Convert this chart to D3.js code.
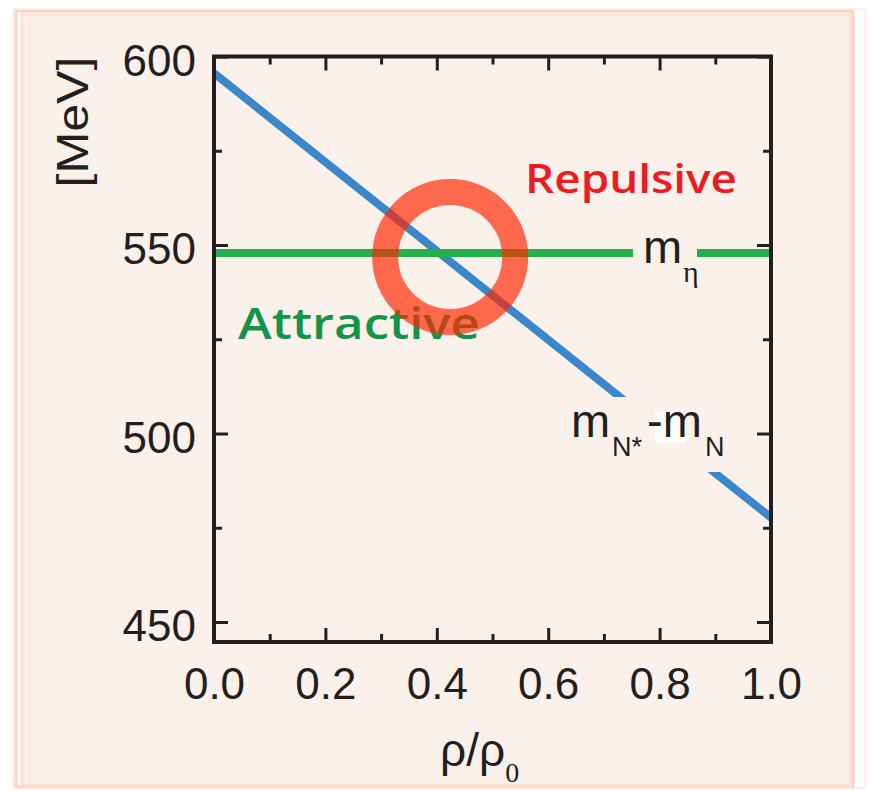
<!DOCTYPE html>
<html>
<head>
<meta charset="utf-8">
<script src="https://cdn.jsdelivr.net/npm/d3@7"></script>
<style>
  html, body { margin: 0; padding: 0; background: #ffffff; }
  svg { display: block; }
</style>
</head>
<body>
<svg id="chart" width="875" height="790"></svg>
<script>
// ---- data ----
const rho = [0.0, 1.0];                       // rho / rho0
const massDiff = [595.6, 477.7];              // m_N* - m_N  [MeV]
const etaMass = [547.9, 547.9];               // m_eta [MeV]
const xTicks = [0.0, 0.2, 0.4, 0.6, 0.8, 1.0];
const xMinor = [0.1, 0.3, 0.5, 0.7, 0.9];
const yTicks = [450, 500, 550, 600];
const yMinor = [475, 525, 575];
const crossing = [0.424, 546.8];              // highlighted crossing region (rho, MeV)

// ---- layout ----
const svg = d3.select("#chart");
const L = 214, R = 771, T = 56.5, B = 642;
const x = d3.scaleLinear().domain([0, 1]).range([L, R]);
const y = d3.scaleLinear().domain([444.7, 600]).range([B, T]);
const ink = "#231f20";
const bg = "#fbf1eb";

// background card with hand-drawn border
svg.append("rect").attr("x", 20).attr("y", 13).attr("width", 832).attr("height", 773).attr("fill", bg);
svg.append("rect").attr("x", 16).attr("y", 11).attr("width", 837).attr("height", 776)
  .attr("fill", "none").attr("stroke", "#fcd2c1").attr("stroke-width", 3);
svg.append("rect").attr("x", 22).attr("y", 15).attr("width", 828).attr("height", 770)
  .attr("fill", "none").attr("stroke", "#fde2d6").attr("stroke-width", 2);
svg.append("rect").attr("x", 13).attr("y", 9).attr("width", 852).attr("height", 779)
  .attr("fill", "none").attr("stroke", "#fdeae2").attr("stroke-width", 1.5);
svg.append("line").attr("x1", 30).attr("x2", 30).attr("y1", 20).attr("y2", 784)
  .attr("stroke", "#fde0d3").attr("stroke-width", 1.5);

// ---- lines ----
const line = d3.line().x(d => x(d[0])).y(d => y(d[1]));
svg.append("path").datum(rho.map((r, i) => [r, massDiff[i]]))
  .attr("d", line).attr("fill", "none").attr("stroke", "#3b87c9").attr("stroke-width", 8);
svg.append("path").datum(rho.map((r, i) => [r, etaMass[i]]))
  .attr("d", line).attr("fill", "none").attr("stroke", "#25b04b").attr("stroke-width", 8);

// label backgrounds that break the lines
svg.append("rect").attr("x", 633).attr("y", 240).attr("width", 64).attr("height", 30).attr("fill", bg);
svg.append("rect").attr("x", 565).attr("y", 397).attr("width", 175).attr("height", 75).attr("fill", bg);

// text labels
const sans = "'Liberation Sans', Arial, Helvetica, sans-serif";
const serif = "'Liberation Serif', 'Times New Roman', serif";
const comic = "'Comic Sans MS', 'Open Sans', sans-serif";

svg.append("text").attr("x", 525).attr("y", 193).attr("fill", "#ed1c24")
  .attr("font-family", comic).attr("font-size", 40).attr("font-weight", 600)
  .attr("textLength", 212).attr("lengthAdjust", "spacingAndGlyphs").text("Repulsive");
svg.append("text").attr("x", 238).attr("y", 339).attr("fill", "#16934a")
  .attr("font-family", comic).attr("font-size", 44).attr("font-weight", 600)
  .attr("textLength", 242).attr("lengthAdjust", "spacingAndGlyphs").text("Attractive");

// m_eta label
svg.append("text").attr("x", 643).attr("y", 263).attr("fill", ink)
  .attr("font-family", sans).attr("font-size", 47).text("m");
svg.append("text").attr("x", 683).attr("y", 282).attr("fill", ink)
  .attr("font-family", serif).attr("font-size", 30).text("η");

// m_N* - m_N label
svg.append("rect").attr("x", 655).attr("y", 412).attr("width", 31).attr("height", 31).attr("fill", "#ffffff");
const lab = svg.append("text").attr("y", 437).attr("fill", ink).attr("font-family", sans);
lab.append("tspan").attr("x", 571).attr("font-size", 47).text("m");
lab.append("tspan").attr("x", 612).attr("y", 456).attr("font-size", 27).text("N*");
lab.append("tspan").attr("x", 647).attr("y", 437).attr("font-size", 47).text("-m");
lab.append("tspan").attr("x", 705).attr("y", 456).attr("font-size", 27).text("N");

// highlight ring
svg.append("circle").attr("cx", x(crossing[0])).attr("cy", y(crossing[1])).attr("r", 65)
  .attr("fill", "none").attr("stroke", "rgb(255,38,0)").attr("stroke-opacity", 0.68).attr("stroke-width", 26);

// ---- axes ----
function styleAxis(g) {
  g.select(".domain").remove();
  g.selectAll(".tick line").attr("stroke", ink).attr("stroke-width", 3);
}
svg.append("g").attr("transform", `translate(0,${B})`)
  .call(d3.axisBottom(x).tickValues(xTicks).tickSize(-14).tickFormat(d3.format(".1f")))
  .call(styleAxis)
  .call(g => g.selectAll("text").attr("y", 57).attr("dy", 0).attr("fill", ink)
    .attr("font-family", sans).attr("font-size", 44));
svg.append("g").attr("transform", `translate(0,${B})`)
  .call(d3.axisBottom(x).tickValues(xMinor).tickSize(-8).tickFormat("")).call(styleAxis);
svg.append("g").attr("transform", `translate(0,${T})`)
  .call(d3.axisTop(x).tickValues(xTicks).tickSize(-14).tickFormat("")).call(styleAxis);
svg.append("g").attr("transform", `translate(0,${T})`)
  .call(d3.axisTop(x).tickValues(xMinor).tickSize(-8).tickFormat("")).call(styleAxis);

svg.append("g").attr("transform", `translate(${L},0)`)
  .call(d3.axisLeft(y).tickValues(yTicks).tickSize(-14).tickPadding(18))
  .call(styleAxis)
  .call(g => g.selectAll("text").attr("dy", "0.43em").attr("fill", ink)
    .attr("font-family", sans).attr("font-size", 44));
svg.append("g").attr("transform", `translate(${L},0)`)
  .call(d3.axisLeft(y).tickValues(yMinor).tickSize(-8).tickFormat("")).call(styleAxis);
svg.append("g").attr("transform", `translate(${R},0)`)
  .call(d3.axisRight(y).tickValues(yTicks).tickSize(-14).tickFormat("")).call(styleAxis);
svg.append("g").attr("transform", `translate(${R},0)`)
  .call(d3.axisRight(y).tickValues(yMinor).tickSize(-8).tickFormat("")).call(styleAxis);

// frame
svg.append("rect").attr("x", L).attr("y", T).attr("width", R - L).attr("height", B - T)
  .attr("fill", "none").attr("stroke", ink).attr("stroke-width", 4);

// axis titles
const xt = svg.append("text").attr("x", 440).attr("y", 766).attr("fill", ink).attr("font-family", sans);
xt.append("tspan").attr("font-size", 46).text("ρ/ρ");
xt.append("tspan").attr("font-family", serif).attr("font-size", 28).attr("dy", 16).text("0");

svg.append("text").attr("transform", "translate(88,122) rotate(-90)")
  .attr("text-anchor", "middle").attr("fill", ink).attr("font-family", sans).attr("font-size", 44)
  .attr("textLength", 131).attr("lengthAdjust", "spacingAndGlyphs").text("[MeV]");
</script>
</body>
</html>
